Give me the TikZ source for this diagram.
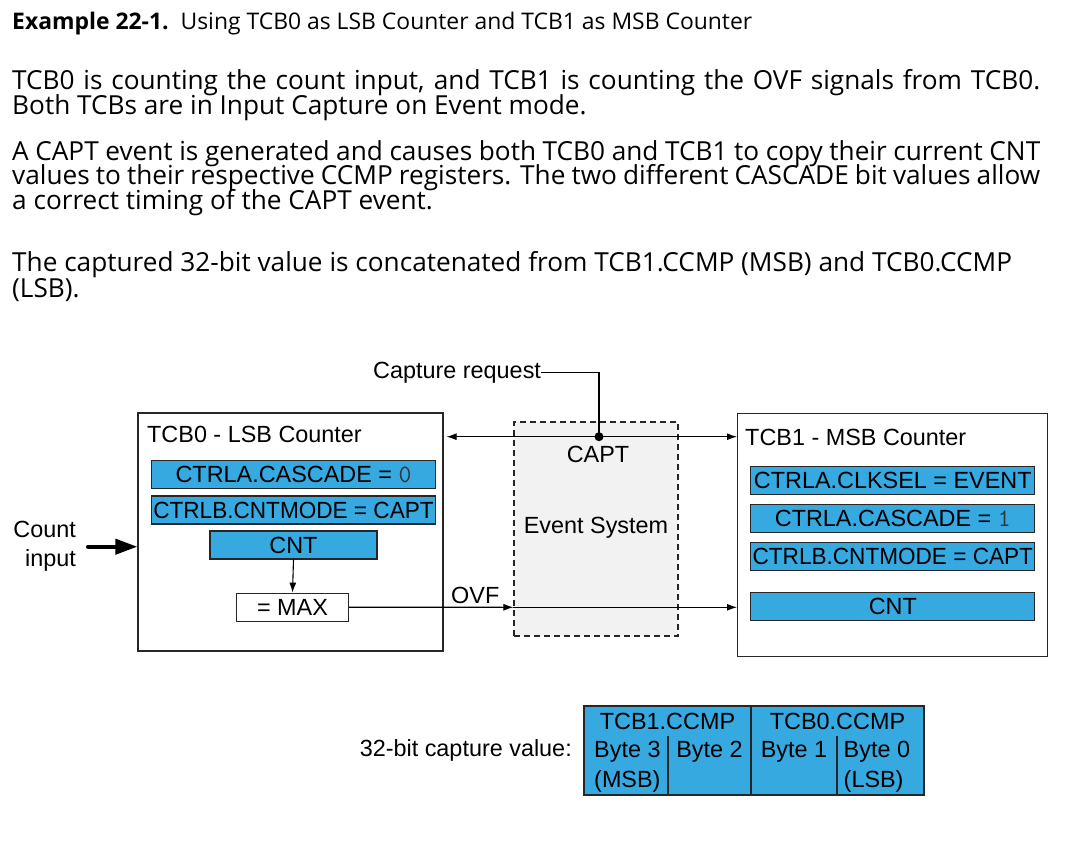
\documentclass[tikz,border=0pt]{standalone}
\usepackage{fontspec}
\setmainfont{Open Sans}
\newfontfamily\arialf{Liberation Sans}
\usetikzlibrary{arrows.meta}
\definecolor{regblue}{RGB}{54,169,225}
\definecolor{evgray}{RGB}{242,242,242}
\tikzset{
  body/.style={font=\fontsize{26.2}{30}\selectfont, inner sep=0pt, anchor=base west},
  dg/.style={font=\arialf\fontsize{23.4}{28}\selectfont, inner sep=0pt},
  reg/.style={dg, draw=black!85, fill=regblue, line width=1.2pt, minimum height=28pt},
  blk/.style={draw=black!85, line width=1.2pt},
  conn/.style={line width=1.1pt, -{Latex[length=10pt,width=7pt]}},
}
\newcommand{\mdig}[1]{{\ttfamily\fontsize{25}{28}\selectfont\color{black!80}#1}}
\newcommand{\justline}[1]{\makebox[1028pt][s]{#1}}
\begin{document}
\begin{tikzpicture}[x=1pt,y=-1pt]
\useasboundingbox[fill=white] (0,0) rectangle (1067,845);

% ---------- text above ----------
\node[body] (cap) at (12,30) {\fontsize{22.9}{26}\selectfont\textbf{Example 22-1.}\hspace{12pt}Using TCB0 as LSB Counter and TCB1 as MSB Counter};
\node[body] (p1a) at (12,90) {\justline{TCB0 is counting the count input, and TCB1 is counting the OVF signals from TCB0.}};
\node[body] (p1b) at (12,114.5) {Both TCBs are in Input Capture on Event mode.};
\node[body] (p2a) at (12,160.5) {\justline{A CAPT event is generated and causes both TCB0 and TCB1 to copy their current CNT}};
\node[body] (p2b) at (12,185) {\justline{values to their respective CCMP registers. The two different CASCADE bit values allow}};
\node[body] (p2c) at (12,209.5) {a correct timing of the CAPT event.};
\node[body] (p3a) at (12,271.5) {The captured 32-bit value is concatenated from TCB1.CCMP (MSB) and TCB0.CCMP};
\node[body] (p3b) at (12,297) {(LSB).};

% ---------- event system ----------
\node[draw=black!85, fill=evgray, line width=1.2pt, dash pattern=on 6pt off 4pt,
      minimum width=164pt, minimum height=214pt] (ev) at (596,529) {};
\node[dg, anchor=base] (capt) at (598,462.5) {CAPT};
\node[dg, anchor=base] (evt) at (596,533.5) {Event System};

% ---------- TCB0 ----------
\node[blk, minimum width=305pt, minimum height=238pt] (tcb0) at (290.5,532) {};
\node[dg, anchor=base west] (t0title) at (147,442) {TCB0 - LSB Counter};
\node[reg, minimum width=284pt] (casc0) at (293.5,474.5) {CTRLA.CASCADE = \mdig{0}};
\node[reg, minimum width=284pt] (mode0) at (293.5,510) {\scalebox{0.965}[1]{CTRLB.CNTMODE = CAPT}};
\node[reg, minimum width=167pt] (cnt0) at (293.5,545) {CNT};
\node[dg, draw=black!85, fill=white, line width=1.2pt, minimum width=112pt, minimum height=28pt] (max) at (292.5,607.2) {= MAX};

% ---------- TCB1 ----------
\node[blk, minimum width=310pt, minimum height=243pt] (tcb1) at (892.6,535) {};
\node[dg, anchor=base west] (t1title) at (745,445) {TCB1 - MSB Counter};
\node[reg, minimum width=284pt] (clk1) at (892.8,480.2) {CTRLA.CLKSEL = EVENT};
\node[reg, minimum width=284pt] (casc1) at (892.8,518.3) {CTRLA.CASCADE = \mdig{1}};
\node[reg, minimum width=284pt] (mode1) at (892.8,556.8) {\scalebox{0.965}[1]{CTRLB.CNTMODE = CAPT}};
\node[reg, minimum width=284pt] (cnt1) at (892.8,606.7) {CNT};

% ---------- count input ----------
\node[dg, anchor=base east] (cin1) at (76,537.5) {Count};
\node[dg, anchor=base east] (cin2) at (76,566.5) {input};
\coordinate (cinS) at (88,546.7);
\draw[line width=4pt, line cap=round, -{Triangle[length=22pt,width=15pt]}] (cinS) -- (cinS -| tcb0.west);

% ---------- CNT -> MAX ----------
\draw[conn] (cnt0.south) -- (max.north);

% ---------- capture request ----------
\node[dg, anchor=base west] (capreq) at (373,378.5) {Capture request};
\coordinate (dot) at (599,436.7);
\draw[line width=1.1pt] (capreq.east) -| (dot);
\draw[line width=1.1pt, {Latex[length=10pt,width=7pt]}-{Latex[length=10pt,width=7pt]}, shorten <=3pt]
  (dot -| tcb0.east) -- (dot -| tcb1.west);
\fill (dot) circle[radius=4.5pt];

% ---------- OVF ----------
\coordinate (ovfy) at (0,607.3);
\draw[conn] (max.east) -- (ovfy -| ev.west);
\draw[conn] (ovfy -| ev.west) -- (ovfy -| tcb1.west);
\node[dg, anchor=base west] (ovf) at (451,603.5) {OVF};

% ---------- 32-bit capture value ----------
\node[dg, anchor=base east] (cvlab) at (572,756) {32-bit capture value:};
\node[draw=black!85, fill=regblue, line width=1.2pt, minimum width=340pt, minimum height=89pt] (tbl) at (754,750.5) {};
\draw[black!85, line width=1.2pt] (751,706) -- (751,795);
\draw[black!85, line width=1.2pt] (668,735.5) -- (668,795);
\draw[black!85, line width=1.2pt] (837,735.5) -- (837,795);
\node[dg, anchor=base] (ccmp1) at (667.5,729.5) {TCB1.CCMP};
\node[dg, anchor=base] (ccmp0) at (837.5,729.5) {TCB0.CCMP};
\node[dg, anchor=base west] (b3) at (594,757) {Byte 3};
\node[dg, anchor=base west] (msb) at (594,787) {(MSB)};
\node[dg, anchor=base] (b2) at (709.5,757) {Byte 2};
\node[dg, anchor=base] (b1) at (794,757) {Byte 1};
\node[dg, anchor=base west] (b0) at (843.5,757) {Byte 0};
\node[dg, anchor=base west] (lsb) at (843.5,787) {(LSB)};
\end{tikzpicture}
\end{document}
